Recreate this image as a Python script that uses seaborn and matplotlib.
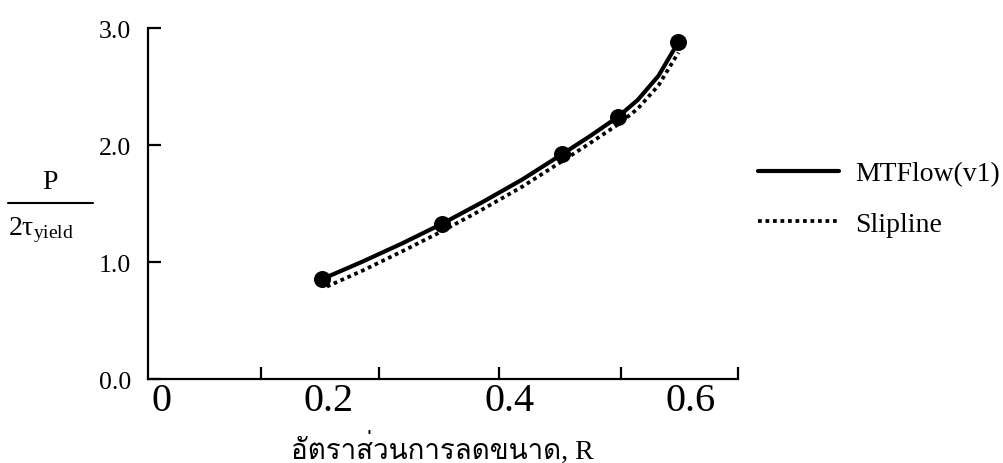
import matplotlib
matplotlib.use("Agg")
import matplotlib.pyplot as plt
from matplotlib import font_manager
from matplotlib.transforms import ScaledTranslation
from matplotlib.lines import Line2D
import seaborn as sns
import pandas as pd

# Measured points (MTFlow v1)
ratio_pts = [0.193, 0.325, 0.458, 0.520, 0.587]
pressure_pts = [0.855, 1.325, 1.92, 2.24, 2.88]

# Smooth MTFlow curve through the measured points
mtflow_r = [0.193, 0.237, 0.281, 0.325, 0.369, 0.414, 0.458,
            0.489, 0.520, 0.542, 0.565, 0.587]
mtflow_p = [0.855, 1.002, 1.158, 1.325, 1.507, 1.704, 1.92,
            2.075, 2.24, 2.385, 2.592, 2.88]

# Slipline-field solution
slip_r = [0.198, 0.237, 0.281, 0.325, 0.369, 0.414, 0.458,
          0.489, 0.520, 0.542, 0.565, 0.587]
slip_p = [0.79, 0.925, 1.09, 1.262, 1.445, 1.643, 1.86,
          2.015, 2.175, 2.31, 2.51, 2.79]

x_label_vals = [0, 0.2, 0.4, 0.6]
x_label_text = ["0", "0.2", "0.4", "0.6"]
x_mark_vals = [0.125, 0.256, 0.389, 0.524, 0.653]
y_tick_vals = [0.0, 1.0, 2.0, 3.0]
y_tick_text = ["0.0", "1.0", "2.0", "3.0"]

series_names = ["MTFlow(v1)", "Slipline"]
x_title = "อัตราส่วนการลดขนาด, R"


def find_thai_font():
    try:
        from fontTools.ttLib import TTFont
    except Exception:
        return None
    for fe in font_manager.fontManager.ttflist:
        try:
            f = TTFont(fe.fname, fontNumber=0, lazy=True)
            cmap = f.getBestCmap()
            if cmap and 0x0E2D in cmap and 0x0E32 in cmap:
                return fe.name
        except Exception:
            continue
    return None


sns.set_style("ticks")
thai = find_thai_font()
families = ["Liberation Serif"] + ([thai] if thai else []) + ["DejaVu Sans"]
plt.rcParams["font.family"] = families
plt.rcParams["text.color"] = "black"
plt.rcParams["xtick.color"] = "black"
plt.rcParams["ytick.color"] = "black"
plt.rcParams["xtick.labelcolor"] = "black"
plt.rcParams["ytick.labelcolor"] = "black"
plt.rcParams["mathtext.fontset"] = "custom"
plt.rcParams["mathtext.rm"] = "Liberation Serif"
plt.rcParams["mathtext.it"] = "Liberation Serif:italic"

fig = plt.figure(figsize=(10.04, 4.64), dpi=100)
ax = fig.add_axes([0.1474, 0.181, 0.5877, 0.7565])

df_mt = pd.DataFrame({"R": mtflow_r, "P": mtflow_p})
df_sl = pd.DataFrame({"R": slip_r, "P": slip_p})
df_pts = pd.DataFrame({"R": ratio_pts, "P": pressure_pts})

sns.lineplot(data=df_sl, x="R", y="P", ax=ax, color="black", lw=2.7,
             linestyle=(0, (1, 1)), sort=False, estimator=None)
sns.lineplot(data=df_mt, x="R", y="P", ax=ax, color="black", lw=3.0,
             sort=False, estimator=None, solid_joinstyle="round")
sns.scatterplot(data=df_pts, x="R", y="P", ax=ax, color="black", s=150,
                edgecolor="black", linewidth=0, zorder=5)

ax.set_xlim(0, x_mark_vals[-1])
ax.set_ylim(0, 3.0)
sns.despine(ax=ax)
for side in ("left", "bottom"):
    ax.spines[side].set_linewidth(1.6)
    ax.spines[side].set_color("black")

ax.set_xticks(x_label_vals)
ax.set_xticklabels(x_label_text, fontsize=29)
ax.set_xticks(x_mark_vals, minor=True)
ax.tick_params(axis="x", which="major", length=0, pad=2)
ax.tick_params(axis="x", which="minor", direction="in", length=9, width=1.6,
               color="black")
ax.get_xticklabels()[0].set_transform(
    ax.get_xticklabels()[0].get_transform()
    + ScaledTranslation(0.14, 0, fig.dpi_scale_trans))

ax.set_yticks(y_tick_vals)
ax.set_yticklabels(y_tick_text, fontsize=18.5)
ax.tick_params(axis="y", direction="in", length=9, width=1.6, color="black",
               pad=12)
ax.set_xlabel("")
ax.set_ylabel("")

# Axis titles
fig.text(50 / 1004, 1 - 183 / 464, "P", fontsize=20, ha="center",
         va="center")
fig.add_artist(Line2D([8 / 1004, 93 / 1004], [1 - 204 / 464, 1 - 204 / 464],
                      transform=fig.transFigure, color="black", lw=1.5))
fig.text(8 / 1004, 1 - 230 / 464, r"$\mathregular{2τ_{yield}}$",
         fontsize=20, ha="left", va="center")
fig.text(442 / 1004, 1 - 448 / 464, x_title, fontsize=20, ha="center",
         va="center")

handles = [Line2D([], [], color="black", lw=3.0),
           Line2D([], [], color="black", lw=2.7, linestyle=(0, (1, 1)))]
fig.legend(handles, series_names, loc="center left",
           bbox_to_anchor=(758 / 1004, 1 - 200 / 464), frameon=False,
           fontsize=20, handlelength=2.9, handletextpad=0.6,
           labelspacing=0.9, borderpad=0, borderaxespad=0)

fig.savefig("out.png", dpi=100, facecolor="white")
